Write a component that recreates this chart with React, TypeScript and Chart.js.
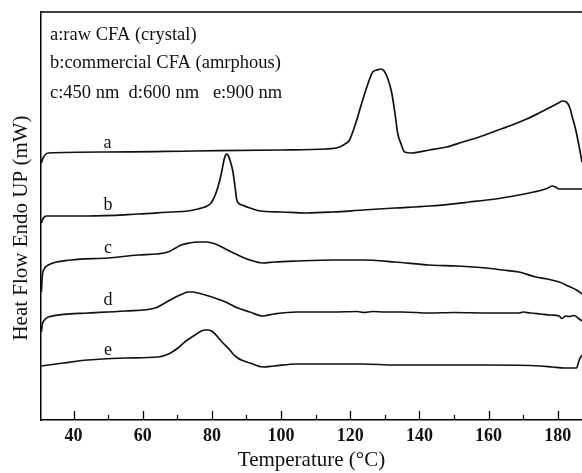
import React, { useEffect, useRef } from "react";
import { Chart, registerables } from "chart.js";

Chart.register(...registerables);

// Temperature (°C) and heat flow (arbitrary units, endo up) for each trace
const aT = [30.7, 31.2, 32.7, 49.1, 75, 100, 113, 116.9, 118.5, 119.8, 121.6, 123.6, 125.2, 126.5, 127.8, 128.8, 129.8, 131, 132, 133, 133.7, 134.8, 135.7, 137.7, 142.9, 147.8, 152.5, 157.3, 162, 166.8, 171, 174.6, 178, 180.2, 181.3, 182.5, 183.5, 184.2, 185.2, 186.2, 187];
const aV = [257, 262, 267, 268, 269, 270, 271, 273, 276, 280, 297, 320, 337, 348, 350, 351, 349, 340, 327, 305, 287, 275, 268, 267, 270, 273, 278, 283, 289, 295, 301, 307, 313, 317, 319, 318, 312, 303, 290, 273, 258];

const bT = [30.7, 31.3, 32.1, 44.2, 58.7, 68, 73.1, 76, 78, 79.5, 80.3, 81.3, 82.3, 83, 83.5, 84, 84.3, 84.8, 85.4, 86.1, 86.7, 87.2, 88, 88.7, 91, 93.9, 100, 107.4, 115, 123.6, 133, 142.9, 154.5, 162, 168.8, 173, 175.5, 177.2, 178.4, 179.3, 180.4, 183, 187];
const bV = [197, 202, 204, 204, 206, 208, 209, 211, 213, 216, 220, 228, 240, 251, 260, 265, 266, 264, 258, 248, 233, 220, 216, 215, 212, 209, 208, 207, 208, 210, 212, 214, 218, 221, 225, 228, 230, 232, 234, 233, 231, 231, 231];

const cT = [30.7, 31.0, 31.5, 32.7, 39.3, 50, 58.7, 64, 67.3, 69.5, 71.1, 73.5, 76, 78.5, 81.7, 84.5, 87.5, 91, 94.7, 98, 104.5, 115, 123.6, 133, 142.9, 151, 159.3, 164, 168.8, 173.7, 177, 180.4, 183, 185.4, 187];
const cV = [128, 145, 151, 155, 160, 162, 165, 166, 168, 172, 175, 177, 178, 178, 175, 170, 165, 160, 157, 158, 159, 160, 160, 158, 155, 154, 152, 150, 148, 143, 141, 138, 134, 130, 126];

const dT = [30.7, 31.0, 31.6, 32.7, 44.2, 55, 63.6, 66.4, 69, 71.5, 73.1, 74.5, 76, 80, 84, 87.5, 91, 94.7, 98, 104.5, 115, 122, 124, 126.5, 130, 135, 142.9, 150, 160, 168.8, 170, 172, 175, 178, 180.4, 181.2, 182.3, 183.3, 184.7, 186.2, 187];
const dV = [88, 96, 100, 103, 107, 109, 112, 117, 122, 126, 128, 128, 127, 123, 118, 112, 108, 104, 106, 108, 108, 108.5, 107.5, 108.5, 108, 108, 107, 107.5, 107, 107, 108, 107, 106, 105, 104, 101.5, 104, 103.5, 104.5, 101, 99];

const eT = [30.7, 37, 44.2, 55, 64.4, 67.5, 70.2, 72.5, 75.1, 77, 78, 79, 80.3, 81.7, 83.2, 85.2, 86.1, 87.5, 88.5, 91, 94.7, 98, 104.5, 115, 123.6, 133, 142.9, 160, 175, 178.4, 182, 185.4, 186.2, 187];
const eV = [54, 57, 60, 62, 63, 66, 72, 79, 85, 89, 90, 90, 88, 83, 77, 70, 66, 62, 60, 57, 53, 54, 56, 56, 56, 55, 55, 55, 54, 53, 52, 52, 60, 65];

const seriesT = [aT, bT, cT, dT, eT];
const seriesV = [aV, bV, cV, dV, eV];

const curveLetters = ["a", "b", "c", "d", "e"];
const letterT = [49.8, 50, 50, 50, 50];
const letterV = [277, 215, 172, 120, 70];

const headerLines = [
  "a:raw CFA (crystal)",
  "b:commercial CFA (amrphous)",
  "c:450 nm  d:600 nm   e:900 nm",
];

const majorTicks = [40, 60, 80, 100, 120, 140, 160, 180];
const minorTicks = [50, 70, 90, 110, 130, 150, 170];

const xTitle = "Temperature (\u00B0C)";
const yTitle = "Heat Flow Endo UP (mW)";

const SERIF = '"Liberation Serif", "Times New Roman", serif';

const decorPlugin = {
  id: "decor",
  afterDraw(chart: any) {
    const ctx = chart.ctx;
    const { left, top, right, bottom } = chart.chartArea;
    const xs = chart.scales.x;
    const ys = chart.scales.y;
    ctx.save();
    ctx.strokeStyle = "#000";
    ctx.lineWidth = 1.5;
    ctx.beginPath();
    ctx.moveTo(left, top);
    ctx.lineTo(right + 2, top);
    ctx.stroke();
    ctx.lineWidth = 1.3;
    majorTicks.forEach((v) => {
      const px = Math.round(xs.getPixelForValue(v)) + 0.5;
      ctx.beginPath();
      ctx.moveTo(px, bottom);
      ctx.lineTo(px, bottom - 9);
      ctx.stroke();
    });
    minorTicks.forEach((v) => {
      const px = Math.round(xs.getPixelForValue(v)) + 0.5;
      ctx.beginPath();
      ctx.moveTo(px, bottom);
      ctx.lineTo(px, bottom - 5);
      ctx.stroke();
    });
    ctx.fillStyle = "#111";
    ctx.font = "18.5px " + SERIF;
    ctx.textAlign = "left";
    ctx.textBaseline = "middle";
    const offs = [23, 51, 81];
    headerLines.forEach((t, i) => ctx.fillText(t, left + 9, top + offs[i]));
    ctx.textAlign = "center";
    ctx.font = "18px " + SERIF;
    curveLetters.forEach((l, i) => {
      ctx.fillText(l, xs.getPixelForValue(letterT[i]), ys.getPixelForValue(letterV[i]));
    });
    ctx.font = "21px " + SERIF;
    ctx.translate(21, 228);
    ctx.rotate(-Math.PI / 2);
    ctx.fillText(yTitle, 0, 0);
    ctx.restore();
  },
};

export default function App() {
  const ref = useRef<HTMLCanvasElement | null>(null);
  useEffect(() => {
    if (!ref.current) return;
    const datasets = seriesT.map((ts, i) => ({
      label: curveLetters[i],
      data: ts.map((t, j) => ({ x: t, y: seriesV[i][j] })),
      borderColor: "#111",
      borderWidth: 1.7,
      pointRadius: 0,
      fill: false,
      cubicInterpolationMode: "monotone" as const,
    }));
    const chart = new Chart(ref.current, {
      type: "line",
      data: { datasets },
      options: {
        animation: false,
        responsive: true,
        maintainAspectRatio: false,
        layout: { padding: { left: 0, right: 0, top: 12, bottom: 0 } },
        plugins: { legend: { display: false }, tooltip: { enabled: false } },
        scales: {
          x: {
            type: "linear",
            min: 30.6,
            max: 187,
            afterBuildTicks: (scale: any) => {
              scale.ticks = majorTicks.map((v) => ({ value: v }));
            },
            afterFit: (scale: any) => {
              scale.height = 53;
            },
            grid: { display: false, drawTicks: false },
            border: { display: true, color: "#000", width: 1.5 },
            ticks: {
              color: "#111",
              padding: 6,
              maxRotation: 0,
              autoSkip: false,
              font: { family: SERIF, size: 18, weight: "bold" },
            },
            title: {
              display: true,
              text: xTitle,
              color: "#111",
              padding: { top: 0, bottom: 0 },
              font: { family: SERIF, size: 21 },
            },
          },
          y: {
            type: "linear",
            min: 0,
            max: 408,
            afterFit: (scale: any) => {
              scale.width = 41;
            },
            grid: { display: false, drawTicks: false },
            border: { display: true, color: "#000", width: 1.5 },
            ticks: { display: false },
          },
        },
      },
      plugins: [decorPlugin],
    });
    return () => chart.destroy();
  }, []);
  return (
    <div style={{ position: "fixed", left: 0, top: 0, width: 582, height: 473, background: "#fff" }}>
      <canvas ref={ref} />
    </div>
  );
}
